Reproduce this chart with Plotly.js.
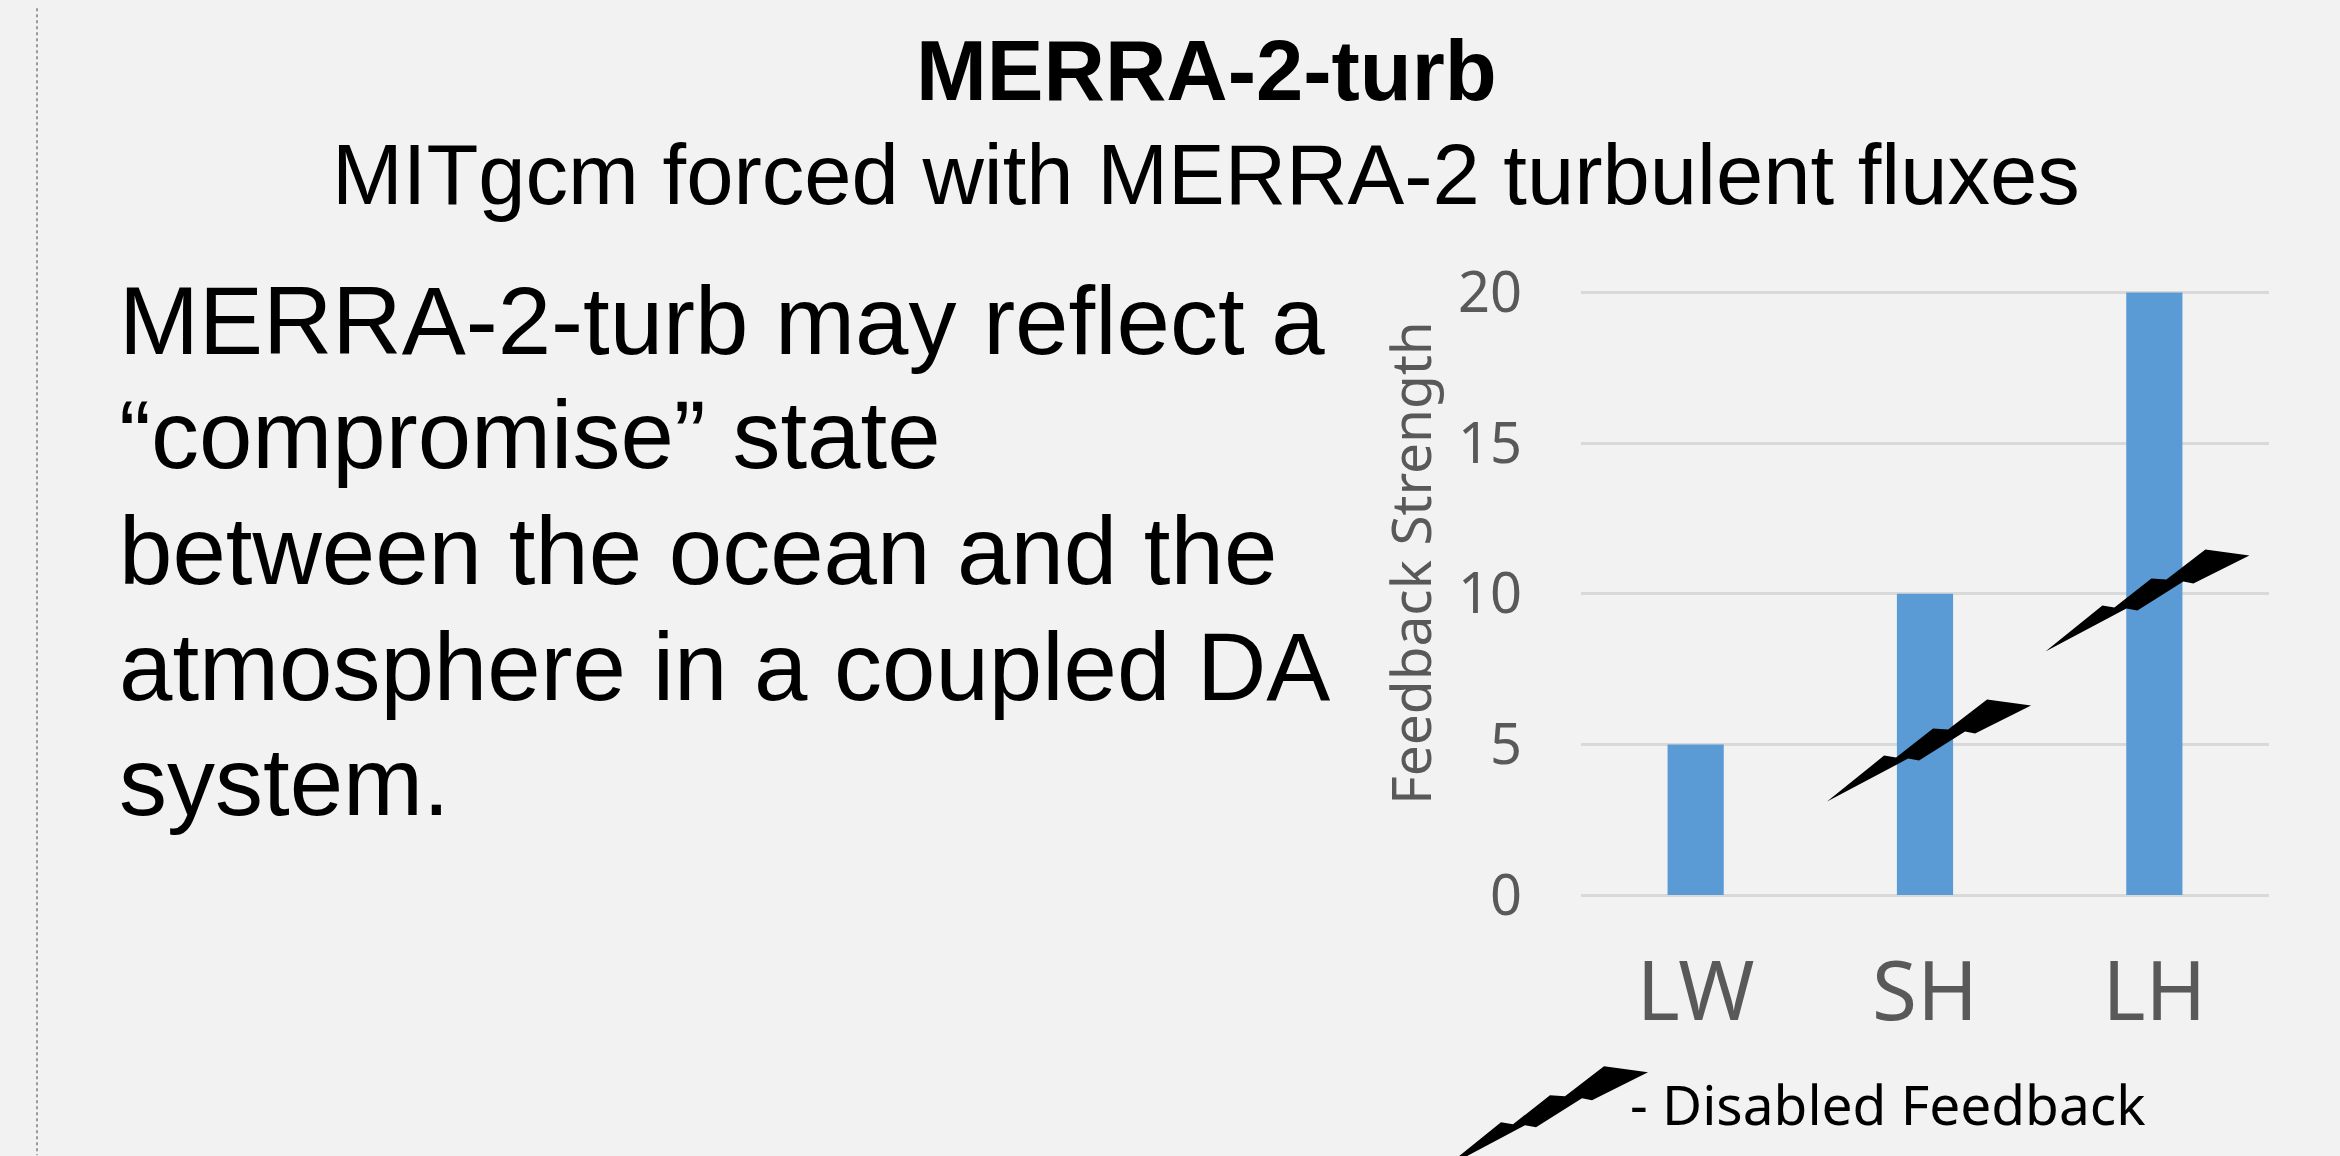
<!DOCTYPE html>
<html>
<head>
<meta charset="utf-8">
<script src="https://cdn.plot.ly/plotly-3.0.1.min.js"></script>
<style>html,body{margin:0;padding:0;background:#f2f2f2;overflow:hidden}</style>
</head>
<body>
<div id="chart" style="width:2340px;height:1156px"></div>
<script>
const categories = ["LW", "SH", "LH"];
const feedback = [5, 10, 20];
const yTicks = [0, 5, 10, 15, 20];

const titleText = "MERRA-2-turb";
const subtitleText = "MITgcm forced with MERRA-2 turbulent fluxes";
const bodyLines = [
    "MERRA-2-turb may reflect a",
    "“compromise” state",
    "between the ocean and the",
    "atmosphere in a coupled DA",
    "system.",
];
const bodyCentres = [321, 435, 551, 667, 782];
const yLabel = "Feedback Strength";
const legendText = "- Disabled Feedback";

// disabled feedback bolts sit at [category index, value], left tip of the bolt
const boltX = [0.573, 1.525];
const boltY = [3.1, 8.08];

// bolt outline in pixels from its left tip
const boltPath = "M0,0 L57,46 L69,44 L106,73 L121,72 L160,102 L204,96 L148,68 L138,70 L92,41 L81,43 Z";

const W = 2340, H = 1156;
const margin = { l: 1581, r: 71, t: 291, b: 260.5, pad: 0 };
const plotW = W - margin.l - margin.r;
const plotH = H - margin.t - margin.b;
const paperX = (px) => (px - margin.l) / plotW;
const paperY = (py) => (H - margin.b - py) / plotH;

const bars = {
    type: "bar",
    x: categories,
    y: feedback,
    width: 0.245,
    marker: { color: "#5b9bd5" },
    hoverinfo: "x+y",
};

const textNote = (text, px, py, size, extra) => Object.assign({
    text: text,
    xref: "paper",
    yref: "paper",
    x: paperX(px),
    y: paperY(py),
    showarrow: false,
    borderpad: 0,
    borderwidth: 0,
    font: { family: "Liberation Sans", size: size, color: "#000000" },
}, extra);

const annotations = [
    textNote("<b>" + titleText + "</b>", 1206, 70, 85, { xanchor: "center", yanchor: "middle" }),
    textNote(subtitleText, 1206, 174, 85, { xanchor: "center", yanchor: "middle" }),
    textNote(yLabel, 1410, 563, 55, {
        textangle: -90,
        xanchor: "center",
        yanchor: "middle",
        font: { family: "Noto Sans", size: 55, color: "#595959" },
    }),
    textNote(legendText, 1630, 1104, 55, {
        xanchor: "left",
        yanchor: "middle",
        font: { family: "Noto Sans", size: 55, color: "#000000" },
    }),
];
bodyLines.forEach((line, i) => {
    annotations.push(textNote(line, 119, bodyCentres[i], 96, { xanchor: "left", yanchor: "middle", align: "left" }));
});

const bolt = (xref, yref, x, y) => ({
    type: "path",
    layer: "above",
    xref: xref,
    yref: yref,
    xsizemode: "pixel",
    ysizemode: "pixel",
    xanchor: x,
    yanchor: y,
    path: boltPath,
    fillcolor: "#000000",
    line: { width: 0 },
});

const shapes = [
    // dotted slide edge on the left
    {
        type: "line",
        xref: "paper",
        yref: "paper",
        x0: paperX(37),
        x1: paperX(37),
        y0: paperY(8),
        y1: paperY(H),
        line: { color: "#9a9a9a", width: 2, dash: "dot" },
    },
    bolt("x", "y", boltX[0], boltY[0]),
    bolt("x", "y", boltX[1], boltY[1]),
    bolt("paper", "paper", paperX(1444), paperY(1169)),
];

const layout = {
    width: W,
    height: H,
    margin: margin,
    paper_bgcolor: "#f2f2f2",
    plot_bgcolor: "#f2f2f2",
    showlegend: false,
    xaxis: {
        type: "category",
        tickfont: { family: "Noto Sans", size: 82, color: "#595959" },
        ticks: "",
        ticklabelstandoff: 42,
        showgrid: false,
        zeroline: false,
        showline: false,
        fixedrange: true,
    },
    yaxis: {
        // top gridline is dropped by plotly if it sits within 1px of the edge
        range: [0, 20.05],
        tickvals: yTicks,
        tickfont: { family: "Noto Sans", size: 56, color: "#595959" },
        ticks: "",
        ticklabelstandoff: 58,
        gridcolor: "#d9d9d9",
        gridwidth: 3,
        zeroline: true,
        zerolinecolor: "#d9d9d9",
        zerolinewidth: 3,
        showline: false,
        fixedrange: true,
    },
    annotations: annotations,
    shapes: shapes,
};

Plotly.newPlot("chart", [bars], layout, { displayModeBar: false, responsive: false });
</script>
</body>
</html>
